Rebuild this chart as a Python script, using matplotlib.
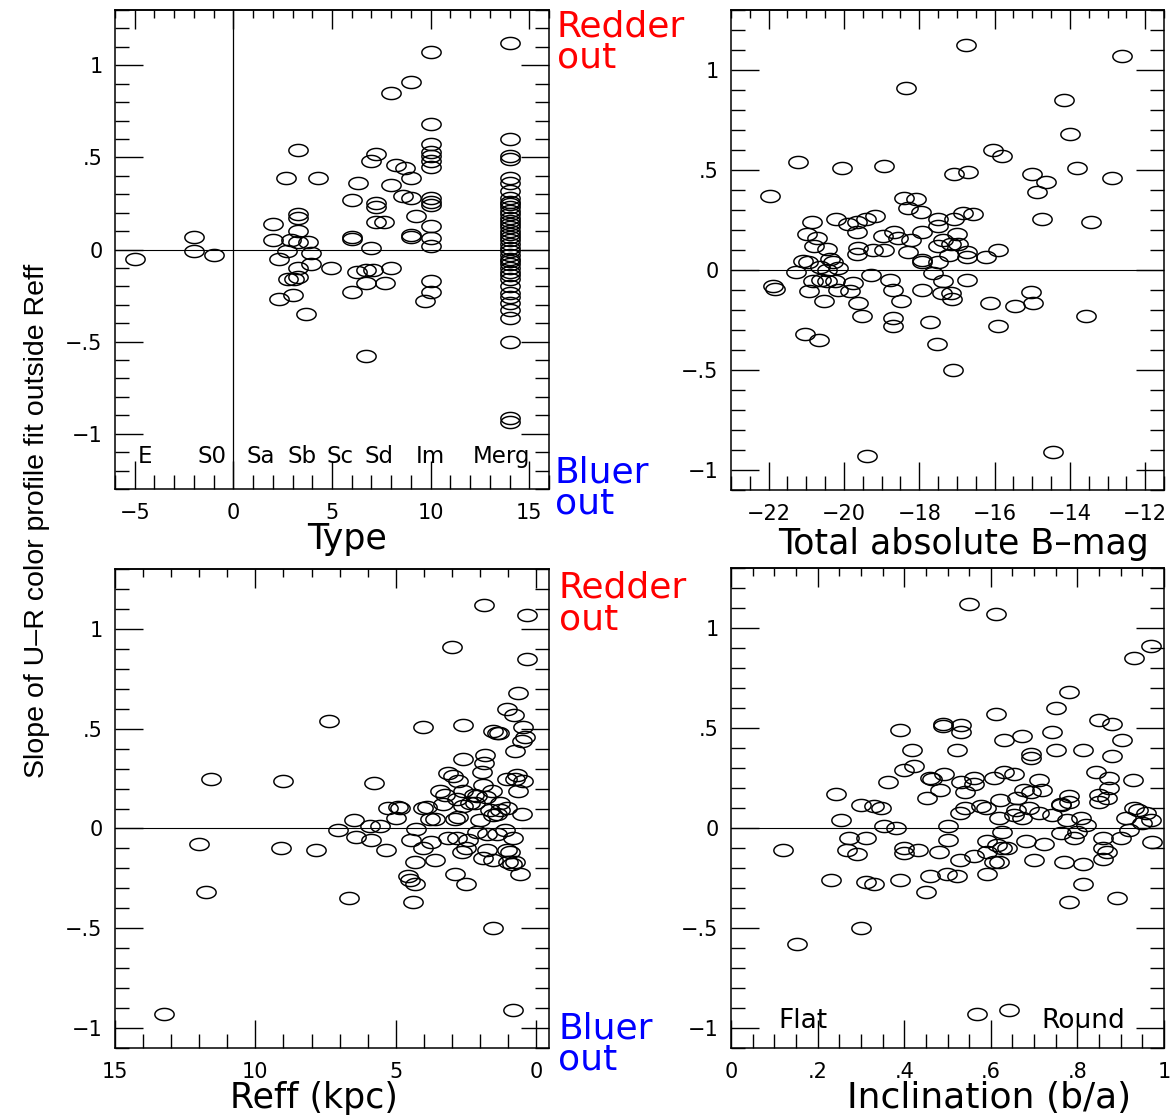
import numpy as np
import matplotlib
matplotlib.use("Agg")
import matplotlib.pyplot as plt
from matplotlib.path import Path
from matplotlib.ticker import MultipleLocator, FuncFormatter

plt.rcParams['font.family'] = ['DejaVu Sans']

# ---------------- data ----------------
# Panel 1: morphological type vs slope
type_spiral = [-5, -2, -2, -1,
               2.0, 2.0, 2.3, 2.3, 2.67, 2.7, 2.75, 2.9, 3.04, 3.06, 3.3, 3.3, 3.3, 3.3,
               3.3, 3.3, 3.3, 3.69, 3.76, 3.94, 3.95, 4.31, 4.96,
               6.0, 6.0, 6.0, 6.0, 6.26, 6.31, 6.7, 6.7, 6.7, 7.0, 7.0, 7.07, 7.24, 7.24,
               7.24, 7.24, 7.65, 7.7, 7.97, 8.0, 8.0, 8.26, 8.6, 8.68, 9.0, 9.0, 9.0, 9.0,
               9.0, 9.27, 9.7,
               10, 10, 10, 10, 10, 10, 10, 10, 10, 10, 10, 10, 10, 10, 10]
slope_spiral = [-0.05, 0.07, -0.01, -0.03,
                0.14, 0.05, -0.05, -0.27, 0.39, -0.01, -0.16, 0.05, -0.245, -0.16, 0.54, 0.19, 0.17, 0.10,
                0.04, -0.10, -0.15, -0.35, 0.04, -0.02, -0.08, 0.39, -0.10,
                0.27, 0.07, 0.055, -0.23, -0.12, 0.36, -0.11, -0.18, -0.58, 0.48, 0.01, -0.11, 0.52, 0.25,
                0.23, 0.15, 0.15, -0.18, -0.10, 0.85, 0.35, 0.46, 0.29, 0.44, 0.91, 0.39, 0.28, 0.08,
                0.07, 0.18, -0.28,
                1.07, 0.68, 0.57, 0.53, 0.51, 0.48, 0.45, 0.28, 0.26, 0.24, 0.13, 0.06, 0.02, -0.17, -0.23]
slope_merger = [1.12, 0.60, 0.51, 0.49, 0.39, 0.36, 0.32, 0.28, 0.26, 0.245, 0.23, 0.21, 0.19,
                0.17, 0.155, 0.14, 0.12, 0.10, 0.085, 0.07, 0.05, 0.03, 0.01, -0.01, -0.03,
                -0.05, -0.06, -0.08, -0.10, -0.12, -0.14, -0.16, -0.20, -0.235, -0.26, -0.29,
                -0.33, -0.37, -0.50, -0.915, -0.935]
type_merger = [14] * len(slope_merger)

# Panel 2: total absolute B magnitude vs slope
bmag = [-16.76, -12.61, -18.35, -14.15, -14.0, -16.04, -15.81, -21.22, -20.04, -18.93, -17.07,
        -16.71, -15.0, -14.64, -13.82, -12.89, -14.86, -21.97, -18.4, -18.08, -18.31, -17.95,
        -14.75, -13.44, -20.86, -20.21, -19.90, -19.66, -19.42, -19.17, -19.66, -17.49, -17.49,
        -17.07, -16.83, -16.56, -20.97, -20.71, -20.8, -20.45, -18.95, -18.68, -18.57, -18.22,
        -17.93, -19.63, -19.22, -18.93, -18.31, -17.38, -17.16, -17.01, -16.74, -15.9,
        -19.66, -17.93, -17.93, -17.49, -16.98, -16.74, -17.2, -16.22, -17.49, -21.1, -20.95,
        -20.37, -20.28, -20.15, -20.46, -21.28, -20.64, -20.82, -20.6, -20.45, -20.24, -19.28,
        -19.75, -20.15, -19.84, -20.92, -21.88, -21.84, -20.53, -19.62, -19.51, -18.77, -18.7,
        -18.48, -18.7, -18.7, -17.93, -17.64, -17.38, -17.39, -17.16, -17.14, -16.72, -17.71,
        -17.52, -17.11, -16.11, -15.9, -15.46, -15.04, -14.98, -13.57, -21.04, -20.66, -19.4,
        -14.46]
slope_bmag = [1.125, 1.07, 0.91, 0.85, 0.68, 0.60, 0.57, 0.54, 0.51, 0.52, 0.48,
              0.49, 0.48, 0.44, 0.51, 0.46, 0.39, 0.37, 0.36, 0.355, 0.31, 0.29,
              0.255, 0.24, 0.24, 0.255, 0.23, 0.24, 0.255, 0.27, 0.19, 0.255, 0.22,
              0.255, 0.285, 0.28, 0.18, 0.16, 0.12, 0.105, 0.17, 0.19, 0.16, 0.15,
              0.19, 0.11, 0.10, 0.10, 0.09, 0.15, 0.13, 0.18, 0.09, 0.10,
              0.08, 0.05, 0.04, 0.12, 0.13, 0.063, 0.077, 0.063, 0.04, 0.047, 0.04,
              0.055, 0.04, 0.008, 0.0, -0.008, 0.013, -0.057, -0.048, -0.053, -0.057, -0.025,
              -0.067, -0.098, -0.107, -0.107, -0.078, -0.095, -0.153, -0.167, -0.228, -0.05, -0.10,
              -0.157, -0.24, -0.28, -0.10, -0.017, -0.057, -0.117, -0.117, -0.145, -0.048, -0.26,
              -0.37, -0.50, -0.167, -0.28, -0.178, -0.11, -0.167, -0.228, -0.32, -0.35, -0.93,
              -0.91]

# Panel 3: effective radius (kpc) vs slope
reff = [1.86, 0.33, 3.01, 0.33, 0.63, 1.05, 0.79, 7.39, 4.02, 2.6, 1.52, 1.40, 1.31, 0.45, 0.39,
        0.49, 0.75, 2.6, 1.82, 1.86, 1.94, 3.13, 2.95, 2.77, 1.88, 1.05, 0.75, 0.67, 0.45, 0.63,
        11.58, 9.02, 5.79, 3.43, 3.25, 2.6, 2.1, 1.8, 2.2, 1.58, 3.31, 2.83, 1.29, 1.05, 1.64,
        1.40, 0.51, 5.27, 4.92, 4.86, 4.02, 3.9,
        4.98, 3.79, 3.61, 2.89, 2.77, 2.62, 2.36, 2.18, 2.0, 1.52, 1.29,
        6.49, 5.93, 5.57, 7.06, 6.40, 5.87, 5.33, 4.26, 4.44, 4.02, 3.73, 4.32, 3.61, 3.13, 2.83,
        2.42, 2.65, 2.48, 2.12, 1.76, 1.40, 1.11, 0.81, 1.76, 1.88, 1.52, 1.05, 0.93, 1.0, 0.75,
        0.87, 0.57, 4.56, 4.5, 4.32, 2.89, 2.48, 12.0, 9.08, 7.83, 11.76, 6.68, 4.38, 1.52,
        13.25, 0.83]
slope_reff = [1.12, 1.07, 0.91, 0.85, 0.68, 0.60, 0.57, 0.54, 0.51, 0.52, 0.49, 0.48, 0.48, 0.51, 0.46,
              0.44, 0.39, 0.35, 0.37, 0.33, 0.285, 0.28, 0.265, 0.24, 0.22, 0.25, 0.25, 0.27, 0.24, 0.19,
              0.25, 0.24, 0.23, 0.19, 0.17, 0.19, 0.165, 0.16, 0.17, 0.19, 0.125, 0.15, 0.13, 0.10, 0.09,
              0.07, 0.07, 0.10, 0.11, 0.10, 0.10, 0.11,
              0.053, 0.048, 0.048, 0.048, 0.057, 0.115, 0.13, 0.13, 0.04, 0.065, 0.09,
              0.04, 0.01, 0.01, -0.01, -0.043, -0.06, -0.11, -0.002, -0.06, -0.10, -0.07, -0.17, -0.16, -0.05, -0.05,
              -0.06, -0.12, -0.10, -0.018, -0.027, -0.027, -0.01, -0.05, -0.107, -0.147, -0.16, -0.11, -0.12, -0.17, -0.17,
              -0.18, -0.23, -0.24, -0.26, -0.28, -0.23, -0.28, -0.08, -0.10, -0.11, -0.32, -0.35, -0.37, -0.50,
              -0.93, -0.91]

# Panel 4: axis ratio b/a vs slope
incl = [0.55, 0.612, 0.971, 0.931, 0.781, 0.75, 0.612, 0.39, 0.49, 0.49, 0.531, 0.531, 0.631, 0.672,
        0.741, 0.85, 0.88, 0.902, 0.419, 0.521, 0.692, 0.692, 0.75, 0.812, 0.88, 0.40, 0.422, 0.46,
        0.465, 0.491, 0.531, 0.562, 0.562, 0.608, 0.631, 0.654, 0.712, 0.842, 0.873, 0.873, 0.929,
        0.362, 0.482, 0.541, 0.452, 0.677, 0.692, 0.719, 0.66, 0.622, 0.781, 0.762, 0.85, 0.869,
        0.85, 0.242, 0.3, 0.331, 0.346, 0.541, 0.577, 0.589,
        0.254, 0.354, 0.381, 0.273, 0.312, 0.269, 0.292, 0.119, 0.231, 0.312, 0.331, 0.39, 0.40,
        0.40, 0.431, 0.481, 0.45, 0.3, 0.152, 0.46, 0.499, 0.522, 0.502, 0.50, 0.529, 0.562, 0.592,
        0.592, 0.591, 0.529, 0.608, 0.619, 0.615, 0.627, 0.638, 0.627, 0.619, 0.654, 0.673, 0.658,
        0.689, 0.681, 0.70, 0.722, 0.712, 0.741, 0.762, 0.781, 0.762, 0.769, 0.792, 0.80, 0.812,
        0.812, 0.781, 0.777, 0.808, 0.819, 0.86, 0.86, 0.869, 0.86, 0.891, 0.90, 0.919, 0.912,
        0.939, 0.931, 0.95, 0.969, 0.958, 0.973, 0.569, 0.641]
slope_incl = [1.12, 1.07, 0.91, 0.85, 0.68, 0.60, 0.57, 0.49, 0.52, 0.51, 0.515, 0.48, 0.44, 0.46,
              0.48, 0.54, 0.52, 0.44, 0.39, 0.39, 0.37, 0.35, 0.39, 0.39, 0.36, 0.29, 0.31, 0.25,
              0.245, 0.27, 0.23, 0.25, 0.22, 0.25, 0.28, 0.27, 0.24, 0.28, 0.25, 0.20, 0.24,
              0.23, 0.19, 0.18, 0.15, 0.19, 0.18, 0.19, 0.15, 0.14, 0.16, 0.12, 0.165, 0.15,
              0.13, 0.17, 0.115, 0.11, 0.10, 0.10, 0.11, 0.10,
              0.04, 0.01, 0.0, -0.05, -0.05, -0.11, -0.13, -0.11, -0.26, -0.27, -0.28, -0.26, -0.10,
              -0.127, -0.11, -0.12, -0.32, -0.50, -0.58, -0.24, -0.23, -0.24, 0.01, -0.06, -0.16, -0.14, -0.12,
              -0.063, -0.23, 0.073, -0.17, -0.17, -0.085, -0.10, -0.10, -0.018, 0.048, 0.065, 0.048, 0.09,
              0.098, -0.063, -0.16, -0.08, 0.073, 0.065, 0.115, 0.13, -0.027, -0.17, -0.05, -0.018, -0.18,
              -0.28, -0.37, 0.04, 0.048, 0.015, -0.05, -0.10, -0.12, -0.157, -0.35, -0.05, -0.01, 0.048,
              0.09, 0.098, 0.023, 0.04, 0.073, -0.068, -0.93, -0.91]

type_names = ['E', 'S0', 'Sa', 'Sb', 'Sc', 'Sd', 'Im', 'Merg']
type_name_x = [-4.5, -1.1, 1.4, 3.5, 5.4, 7.4, 10.0, 13.6]

# ---------------- figure ----------------
W, H = 1170, 1116
fig = plt.figure(figsize=(W / 100, H / 100), dpi=100)


def fx(px):
    return px / W


def fy(py):
    return 1 - py / H


def add_panel(left, top, right, bottom):
    return fig.add_axes([fx(left), fy(bottom), (right - left) / W, (bottom - top) / H])


# open ellipse marker
t = np.linspace(0, 2 * np.pi, 60)
ell = Path(np.column_stack([np.cos(t), 0.63 * np.sin(t)]), closed=True)
mk = dict(ls='none', marker=ell, ms=13.9, mfc='none', mec='black', mew=1.05)


def fmt(v, pos):
    if abs(v) < 1e-9:
        return '0'
    s = f'{abs(v):g}'
    if s.startswith('0.'):
        s = s[1:]
    return ('\u2212' if v < 0 else '') + s


def style(ax, xmaj, xmin, ymaj=0.5, ymin=0.1):
    ax.xaxis.set_major_locator(MultipleLocator(xmaj))
    ax.xaxis.set_minor_locator(MultipleLocator(xmin))
    ax.yaxis.set_major_locator(MultipleLocator(ymaj))
    ax.yaxis.set_minor_locator(MultipleLocator(ymin))
    ax.xaxis.set_major_formatter(FuncFormatter(fmt))
    ax.yaxis.set_major_formatter(FuncFormatter(fmt))
    ax.tick_params(which='both', direction='in', bottom=True, top=False,
                   left=True, right=True, width=1.0, labelsize=15, color='black')
    ax.tick_params(which='major', length=20)
    ax.tick_params(which='minor', length=10)
    ax.tick_params(axis='y', which='major', pad=9)
    ax.tick_params(axis='x', which='major', pad=10)
    for sp in ax.spines.values():
        sp.set_linewidth(1.1)
    top = ax.secondary_xaxis('top')
    top.xaxis.set_major_locator(MultipleLocator(xmaj))
    top.xaxis.set_minor_locator(MultipleLocator(xmin))
    top.tick_params(which='both', direction='in', labeltop=False, width=1.0)
    top.tick_params(which='major', length=13.5)
    top.tick_params(which='minor', length=6)
    top.spines['top'].set_linewidth(1.1)
    ax.axhline(0, color='black', lw=0.8, zorder=1)


# panel 1
ax1 = add_panel(115, 10, 549, 489)
ax1.set_xlim(-6, 16)
ax1.set_ylim(-1.3, 1.3)
style(ax1, 5, 1)
ax1.axvline(0, color='black', lw=0.9, zorder=1)
ax1.plot(type_spiral, slope_spiral, **mk)
ax1.plot(type_merger, slope_merger, **mk)
for name, xv in zip(type_names, type_name_x):
    ax1.text(xv, -1.158, name, ha='center', va='baseline', fontsize=16.5)

# panel 2
ax2 = add_panel(731, 10, 1164, 490)
ax2.set_xlim(-23, -11.5)
ax2.set_ylim(-1.1, 1.3)
style(ax2, 2, 0.5)
ax2.plot(bmag, slope_bmag, **mk)

# panel 3
ax3 = add_panel(115, 569, 549, 1048)
ax3.set_xlim(15, -0.46)
ax3.set_ylim(-1.1, 1.3)
style(ax3, 5, 1)
ax3.plot(reff, slope_reff, **mk)

# panel 4
ax4 = add_panel(731, 568, 1164, 1048)
ax4.set_xlim(0, 1)
ax4.set_ylim(-1.1, 1.3)
style(ax4, 0.2, 0.05)
ax4.plot(incl, slope_incl, **mk)
ax4.text(0.165, -1.0, 'Flat', ha='center', va='baseline', fontsize=19)
ax4.text(0.813, -1.0, 'Round', ha='center', va='baseline', fontsize=19)

# axis titles
fig.text(fx(347), fy(549), 'Type', ha='center', va='baseline', fontsize=25)
fig.text(fx(964), fy(554), 'Total absolute B\u2013mag', ha='center', va='baseline', fontsize=25)
fig.text(fx(314), fy(1108), 'Reff (kpc)', ha='center', va='baseline', fontsize=25)
fig.text(fx(989), fy(1108), 'Inclination (b/a)', ha='center', va='baseline', fontsize=26)
fig.text(fx(37), fy(521), 'Slope of U\u2013R color profile fit outside Reff', rotation=90,
         ha='center', va='center', fontsize=20.5, family=['Liberation Sans', 'DejaVu Sans'])

# colour-direction notes (two lines each; position is the baseline of "out")
notes = [(557, 68, 'Redder\nout', 'red'),
         (555, 514, 'Bluer\nout', 'blue'),
         (559, 629, 'Redder\nout', 'red'),
         (558, 1070, 'Bluer\nout', 'blue')]
for px, py, s, c in notes:
    fig.text(fx(px), fy(py), s, color=c, ha='left', va='baseline', fontsize=26,
             linespacing=0.92, multialignment='left')

fig.savefig('out.png', dpi=100)
